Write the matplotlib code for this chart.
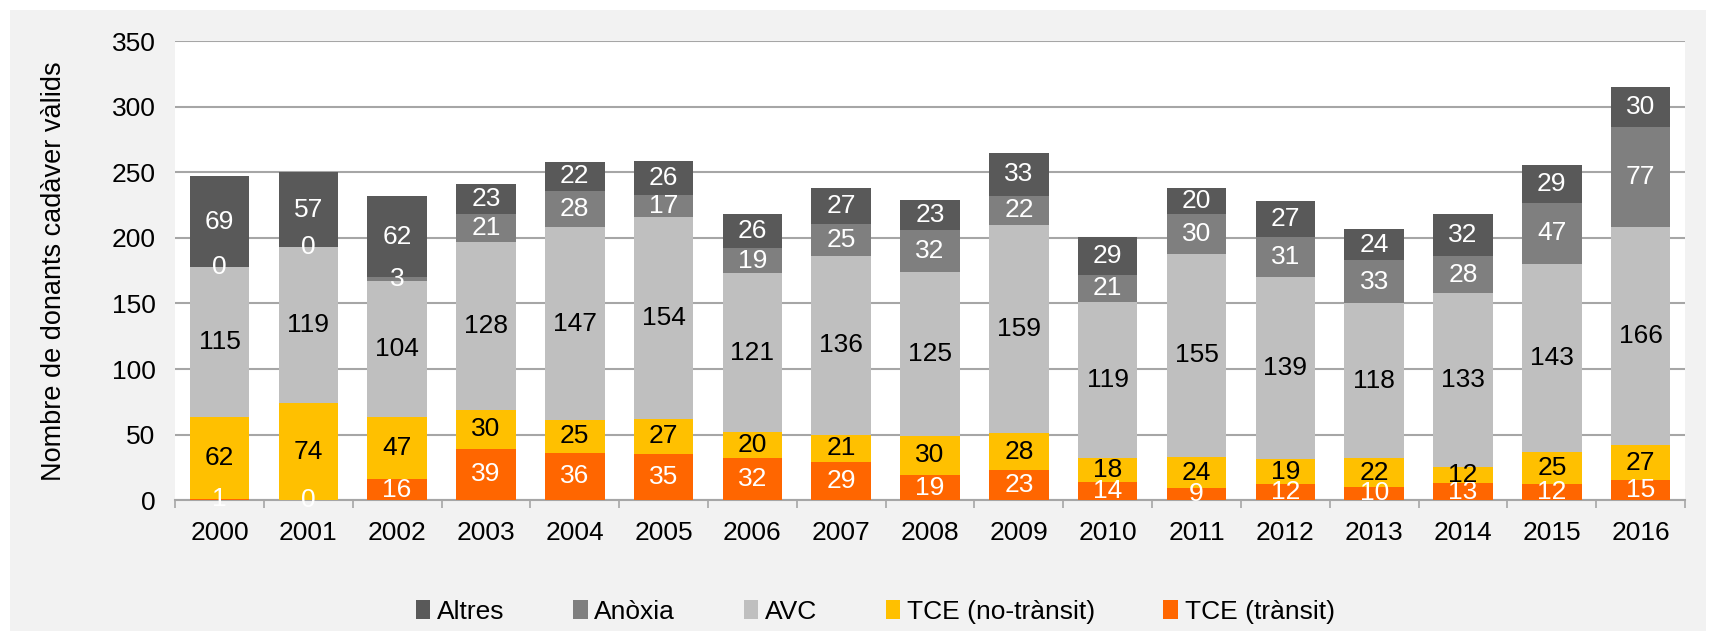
import numpy as np
import matplotlib.pyplot as plt
from matplotlib.patches import Rectangle

plt.rcParams['font.family'] = ['Liberation Sans', 'DejaVu Sans']

years = ['2000', '2001', '2002', '2003', '2004', '2005', '2006', '2007', '2008',
         '2009', '2010', '2011', '2012', '2013', '2014', '2015', '2016']

tce_transit = [1, 0, 16, 39, 36, 35, 32, 29, 19, 23, 14, 9, 12, 10, 13, 12, 15]
tce_no_transit = [62, 74, 47, 30, 25, 27, 20, 21, 30, 28, 18, 24, 19, 22, 12, 25, 27]
avc = [115, 119, 104, 128, 147, 154, 121, 136, 125, 159, 119, 155, 139, 118, 133, 143, 166]
anoxia = [0, 0, 3, 21, 28, 17, 19, 25, 32, 22, 21, 30, 31, 33, 28, 47, 77]
altres = [69, 57, 62, 23, 22, 26, 26, 27, 23, 33, 29, 20, 27, 24, 32, 29, 30]

# (name, values, fill colour, label colour), bottom to top
series = [
    ('TCE (trànsit)', tce_transit, '#ff6600', 'white'),
    ('TCE (no-trànsit)', tce_no_transit, '#ffc000', 'black'),
    ('AVC', avc, '#bfbfbf', 'black'),
    ('Anòxia', anoxia, '#7f7f7f', 'white'),
    ('Altres', altres, '#595959', 'white'),
]

FS = 19

fig = plt.figure(figsize=(17.16, 6.37), dpi=100)
fig.patch.set_facecolor('white')
fig.patches.append(Rectangle((0.006, 0.01), 0.988, 0.975, transform=fig.transFigure,
                             facecolor='#f2f2f2', edgecolor='none', zorder=-10))

ax = fig.add_axes([0.102, 0.215, 0.880, 0.72])
ax.set_facecolor('white')

x = np.arange(len(years))
bottom = np.zeros(len(years))
handles = {}
for name, vals, col, txtcol in series:
    vals = np.array(vals, dtype=float)
    bars = ax.bar(x, vals, 0.67, bottom=bottom, color=col, edgecolor='none',
                  label=name, zorder=3)
    ax.bar_label(bars, labels=[str(int(v)) for v in vals], label_type='center',
                 color=txtcol, fontsize=FS, zorder=4)
    handles[name] = bars
    bottom += vals

ax.set_xlim(-0.5, len(years) - 0.5)
ax.set_ylim(0, 350)
ax.set_yticks(np.arange(0, 351, 50))
ax.yaxis.grid(True, color='#a6a6a6', linewidth=1.5, zorder=0)
ax.set_axisbelow(True)

# tick marks between categories, labels at the centres
ax.set_xticks(np.arange(-0.5, len(years)), minor=False)
ax.set_xticklabels([])
ax.set_xticks(x, minor=True)
ax.set_xticklabels(years, minor=True)
ax.tick_params(axis='x', which='major', length=6, color='#a6a6a6', width=1.2)
ax.tick_params(axis='x', which='minor', length=0, pad=15, labelsize=FS)
ax.tick_params(axis='y', length=0, pad=14, labelsize=FS)

for s in ['top', 'right', 'left']:
    ax.spines[s].set_visible(False)
ax.spines['bottom'].set_color('#a6a6a6')
ax.spines['bottom'].set_linewidth(1.5)

ax.set_ylabel('Nombre de donants cadàver vàlids', fontsize=19.5, labelpad=32)

order = ['Altres', 'Anòxia', 'AVC', 'TCE (no-trànsit)', 'TCE (trànsit)']
fig.legend([handles[n] for n in order], order, loc='center', ncol=5,
           bbox_to_anchor=(0.51, 0.04), frameon=False, fontsize=FS,
           handlelength=0.55, handleheight=0.7, handletextpad=0.25, columnspacing=2.6)

fig.savefig('out.png', dpi=100, facecolor=fig.get_facecolor())
